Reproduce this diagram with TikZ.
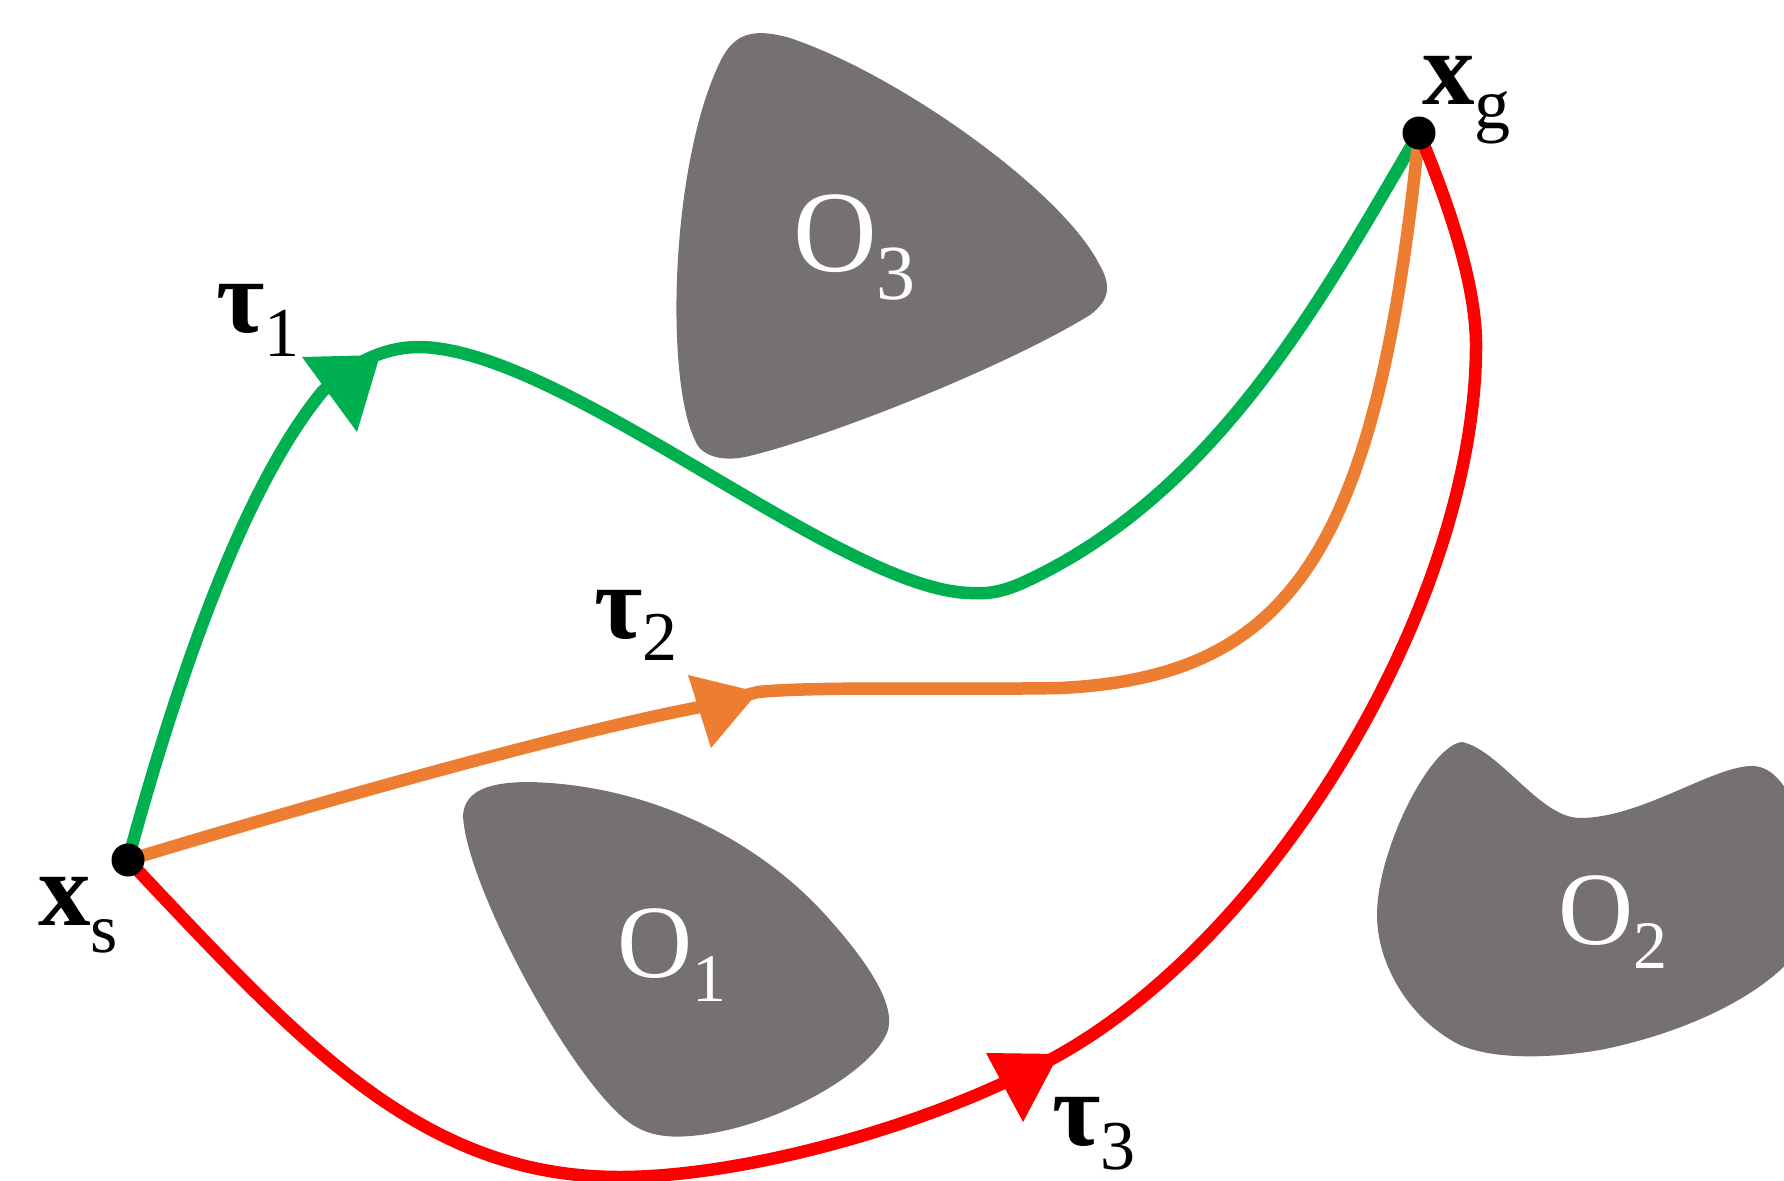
\documentclass[tikz,border=0pt]{standalone}
\usepackage{fontspec}
\setmainfont{Liberation Serif}
\definecolor{tgreen}{HTML}{00B050}
\definecolor{torange}{HTML}{ED7D31}
\definecolor{tred}{HTML}{FF0000}
\definecolor{obstgray}{HTML}{767171}
\tikzset{
  route/.style={line width=12.5pt, line join=round},
  obstacle/.style={fill=obstgray},
  dot/.style={circle, fill=black, inner sep=0pt, minimum size=33pt},
  lbl/.style={inner sep=0pt, anchor=base west, text=black},
  olbl/.style={inner sep=0pt, anchor=base west, text=white}
}
\begin{document}
\begin{tikzpicture}[x=1pt,y=-1pt]
\useasboundingbox (0,0) rectangle (1784,1180);
\clip (0,0) rectangle (1784,1180);

\coordinate (xs) at (128,860);
\coordinate (xg) at (1419,133);

% obstacle O3
\fill[obstacle] (720,62)
  .. controls (734,32) and (755,28) .. (790,38)
  .. controls (900,75) and (1060,190) .. (1098,262)
  .. controls (1112,285) and (1110,300) .. (1090,315)
  .. controls (1000,370) and (820,440) .. (745,457)
  .. controls (720,462) and (700,455) .. (695,440)
  .. controls (665,380) and (670,165) .. (720,62) -- cycle;
% obstacle O1
\fill[obstacle] (463,815)
  .. controls (465,790) and (490,782) .. (530,782)
  .. controls (650,785) and (760,840) .. (830,920)
  .. controls (870,965) and (895,1005) .. (888,1030)
  .. controls (875,1070) and (780,1125) .. (700,1135)
  .. controls (660,1140) and (640,1133) .. (620,1115)
  .. controls (560,1060) and (465,880) .. (463,815) -- cycle;
% obstacle O2
\fill[obstacle] (1462,742)
  .. controls (1500,750) and (1540,818) .. (1580,818)
  .. controls (1640,818) and (1710,768) .. (1750,766)
  .. controls (1775,765) and (1790,790) .. (1805,830)
  -- (1805,940)
  .. controls (1780,985) and (1700,1030) .. (1600,1050)
  .. controls (1540,1060) and (1490,1058) .. (1460,1045)
  .. controls (1410,1020) and (1377,965) .. (1377,915)
  .. controls (1377,850) and (1430,745) .. (1462,742) -- cycle;

% route tau1 (green)
\draw[route, tgreen] (xs)
  .. controls (185,650) and (250,480) .. (322,392)
  .. controls (345,370) and (375,348) .. (417,347)
  .. controls (560,346) and (840,590) .. (970,593)
  .. controls (990,594) and (1000,592) .. (1020,584)
  .. controls (1220,494) and (1327,288) .. (xg);
% route tau2 (orange)
\draw[route, torange] (xs)
  .. controls (320,802) and (560,734) .. (700,707)
  -- (758,692)
  .. controls (820,686) and (960,690) .. (1060,688)
  .. controls (1290,677) and (1377,553) .. (xg);
% route tau3 (red)
\draw[route, tred] (xs)
  .. controls (300,1042) and (420,1177) .. (620,1177)
  .. controls (740,1177) and (928,1128) .. (1059,1055)
  .. controls (1276,933) and (1476,600) .. (1476,345)
  .. controls (1476,280) and (1445,195) .. (xg);

% arrowheads
\fill[tgreen] (302,357) -- (380,355) -- (357,432) -- cycle;
\fill[torange] (688,675) -- (758,692) -- (711,748) -- cycle;
\fill[tred] (986,1053) -- (1059,1054) -- (1023,1122) -- cycle;

% points
\node[dot] (start) at (xs) {};
\node[dot] (goal) at (xg) {};

% labels
\node[lbl] (lxs) at (38,925) {\fontsize{105}{110}\selectfont\bfseries x\raisebox{-27pt}{\fontsize{70}{70}\selectfont\mdseries s}};
\node[lbl] (lxg) at (1422,105) {\fontsize{105}{110}\selectfont\bfseries x\raisebox{-24pt}{\fontsize{72}{72}\selectfont\mdseries g}};
\node[lbl] (lt1) at (216,332) {\fontsize{105}{110}\selectfont\bfseries τ\raisebox{-24pt}{\fontsize{70}{70}\selectfont\mdseries 1}};
\node[lbl] (lt2) at (594,638) {\fontsize{105}{110}\selectfont\bfseries τ\raisebox{-22pt}{\fontsize{70}{70}\selectfont\mdseries 2}};
\node[lbl] (lt3) at (1052,1145) {\fontsize{105}{110}\selectfont\bfseries τ\raisebox{-24pt}{\fontsize{70}{70}\selectfont\mdseries 3}};
\node[olbl] (lo3) at (793,271) {\fontsize{116}{120}\selectfont O\raisebox{-28pt}{\fontsize{78}{78}\selectfont 3}};
\node[olbl] (lo1) at (617,977) {\fontsize{104}{110}\selectfont O\raisebox{-24pt}{\fontsize{68}{68}\selectfont 1}};
\node[olbl] (lo2) at (1558,944) {\fontsize{104}{110}\selectfont O\raisebox{-24pt}{\fontsize{68}{68}\selectfont 2}};
\end{tikzpicture}
\end{document}
